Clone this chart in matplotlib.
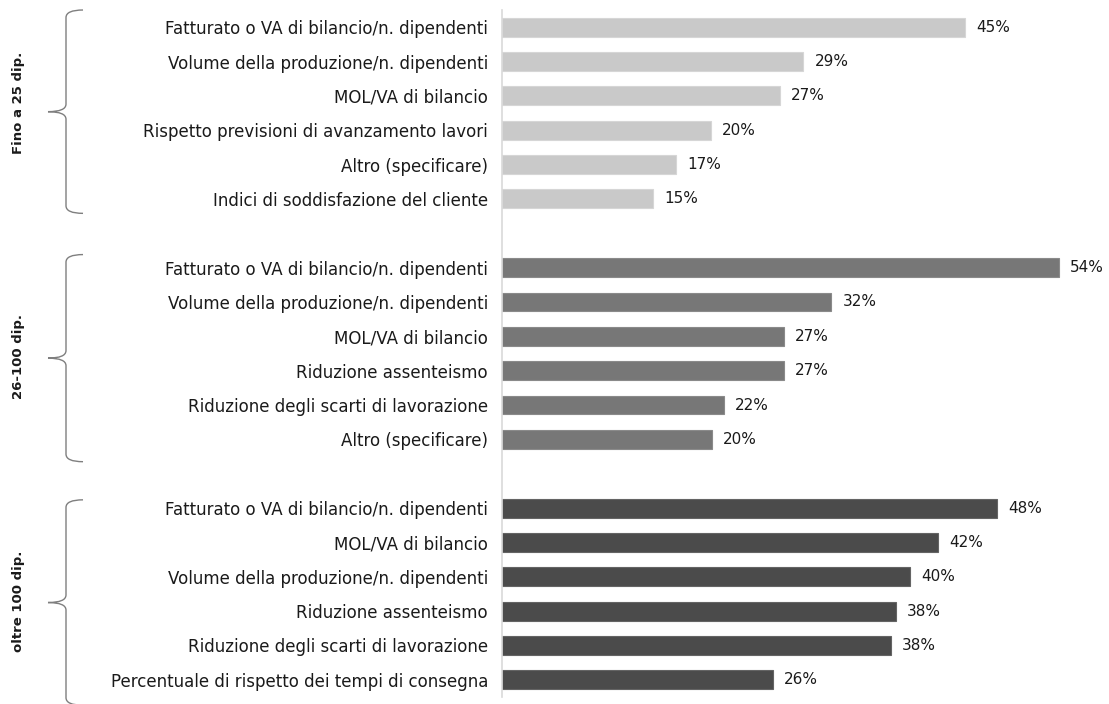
import numpy as np
import matplotlib
matplotlib.use('Agg')
import matplotlib.pyplot as plt
from matplotlib.path import Path
from matplotlib.patches import PathPatch
from matplotlib.transforms import blended_transform_factory

# Data
groups = ['Fino a 25 dip.', '26-100 dip.', 'oltre 100 dip.']

labels_small = ['Fatturato o VA di bilancio/n. dipendenti',
                'Volume della produzione/n. dipendenti',
                'MOL/VA di bilancio',
                'Rispetto previsioni di avanzamento lavori',
                'Altro (specificare)',
                'Indici di soddisfazione del cliente']
values_small = [45.0, 29.3, 27.0, 20.3, 16.9, 14.7]

labels_mid = ['Fatturato o VA di bilancio/n. dipendenti',
              'Volume della produzione/n. dipendenti',
              'MOL/VA di bilancio',
              'Riduzione assenteismo',
              'Riduzione degli scarti di lavorazione',
              'Altro (specificare)']
values_mid = [54.1, 32.0, 27.4, 27.4, 21.6, 20.4]

labels_large = ['Fatturato o VA di bilancio/n. dipendenti',
                'MOL/VA di bilancio',
                'Volume della produzione/n. dipendenti',
                'Riduzione assenteismo',
                'Riduzione degli scarti di lavorazione',
                'Percentuale di rispetto dei tempi di consegna']
values_large = [48.1, 42.4, 39.7, 38.3, 37.8, 26.3]

colors = ['#c9c9c9', '#777777', '#4b4b4b']
edges = ['#d6d6d6', '#8a8a8a', '#646464']

plt.rcParams['font.family'] = ['DejaVu Sans']

W, H = 1109, 704
fig = plt.figure(figsize=(W / 100, H / 100), dpi=100)
ax = fig.add_axes([502 / W, 7 / H, (W - 502) / W, (697 - 10) / H])

all_labels = [labels_small, labels_mid, labels_large]
all_values = [values_small, values_mid, values_large]

ticks, ticklabels = [], []
pos = 0
for g, (labs, vals) in enumerate(zip(all_labels, all_values)):
    ys = np.arange(pos, pos + len(vals))
    ax.barh(ys, vals, height=0.55, color=colors[g], edgecolor=edges[g], linewidth=0.8)
    for y, v in zip(ys, vals):
        ax.annotate(f'{v:.0f}%', (v, y), xytext=(8, 0), textcoords='offset points',
                    va='center', ha='left', fontsize=11, color='#1a1a1a')
    ticks.extend(ys)
    ticklabels.extend(labs)
    pos += len(vals) + 1

ax.set_yticks(ticks)
ax.set_yticklabels(ticklabels, fontsize=12, color='#1a1a1a')
ax.tick_params(axis='y', length=0, pad=10)
ax.set_xticks([])
ax.set_xlim(0, 59)
ax.set_ylim(19.5, -0.5)
for s in ['top', 'right', 'bottom']:
    ax.spines[s].set_visible(False)
ax.spines['left'].set_color('#d9d9d9')
ax.spines['left'].set_linewidth(1.2)

# Braces and group labels
tr = blended_transform_factory(fig.transFigure, ax.transData)
brace_spans = [(-0.5, 5.42), (6.62, 12.65), (13.76, 19.74)]
label_rows = [2.2, 9.6, 16.7]
x_v, x_end, x_tip = 66 / W, 83 / W, 48 / W
d = 0.22
for (y0, y1), name, ly in zip(brace_spans, groups, label_rows):
    ym = (y0 + y1) / 2
    verts = [(x_end, y0), (x_v, y0), (x_v, y0 + d),
             (x_v, ym - d),
             (x_v, ym), (x_tip, ym),
             (x_v, ym), (x_v, ym + d),
             (x_v, y1 - d),
             (x_v, y1), (x_end, y1)]
    codes = [Path.MOVETO, Path.CURVE3, Path.CURVE3,
             Path.LINETO,
             Path.CURVE3, Path.CURVE3,
             Path.CURVE3, Path.CURVE3,
             Path.LINETO,
             Path.CURVE3, Path.CURVE3]
    patch = PathPatch(Path(verts, codes), transform=tr, facecolor='none',
                      edgecolor='#7f7f7f', linewidth=1.0, clip_on=False)
    fig.add_artist(patch)
    fig.text(19 / W, ly, name, transform=tr, rotation=90, ha='center', va='center',
             fontsize=9.5, fontweight='bold', color='#1a1a1a')

fig.savefig('out.png', dpi=100)
